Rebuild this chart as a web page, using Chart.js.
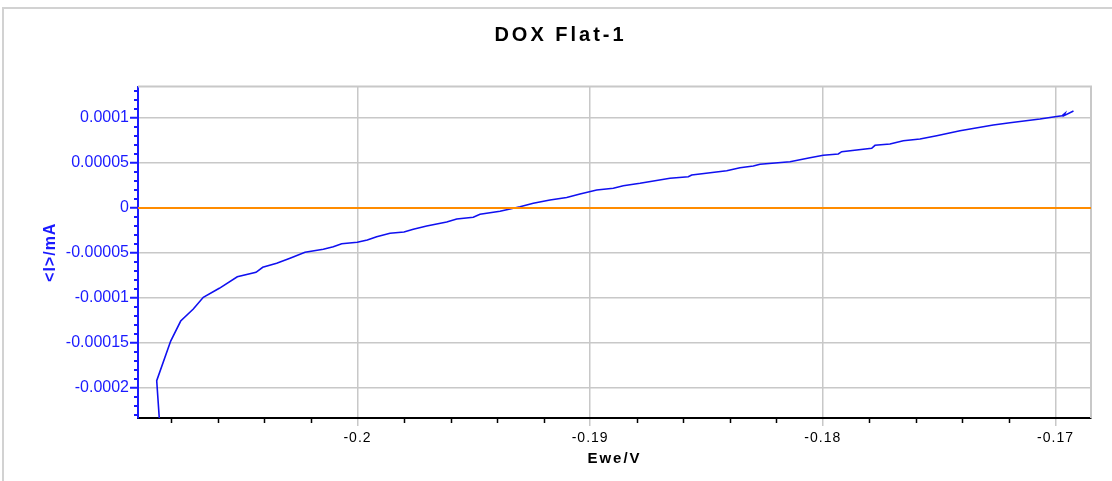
<!DOCTYPE html>
<html>
<head>
<meta charset="utf-8">
<script src="https://cdn.jsdelivr.net/npm/chart.js@4.4.1/dist/chart.umd.min.js"></script>
<style>
  html, body { margin: 0; padding: 0; background: #ffffff; }
  #wrap { width: 1112px; height: 481px; position: relative; }
</style>
</head>
<body>
<div id="wrap"><canvas id="chart"></canvas></div>
<script>
// ---- chart text ----
const chartTitle = 'DOX Flat-1';
const xAxisTitle = 'Ewe/V';
const yAxisTitle = '<I>/mA';

// ---- series: Ewe (V) vs <I> (mA) ----
const eweV = [
  -0.208484, -0.208630, -0.208029, -0.207599, -0.207057, -0.206627, -0.205940, -0.205166,
  -0.204362, -0.204074, -0.203473, -0.202901, -0.202256, -0.201470, -0.201040, -0.200679,
  -0.200009, -0.199579, -0.199175, -0.198603, -0.198002, -0.197602, -0.197026, -0.196166,
  -0.195736, -0.195023, -0.194735, -0.193875, -0.193016, -0.192444, -0.191727, -0.191009,
  -0.190437, -0.189719, -0.189006, -0.188576, -0.187858, -0.186569, -0.185782, -0.185636,
  -0.184132, -0.183560, -0.182989, -0.182701, -0.181411, -0.180552, -0.179980, -0.179336,
  -0.179189, -0.177900, -0.177758, -0.177114, -0.176542, -0.175824, -0.175106, -0.174105,
  -0.172674, -0.171956, -0.170667, -0.170022, -0.169721, -0.169592, -0.169635, -0.169227
];
const currentMA = [
  -0.00024667, -0.00019189, -0.00014778, -0.00012556, -0.00011222, -0.00009922, -0.00008922, -0.00007633,
  -0.00007144, -0.00006589, -0.00006144, -0.00005589, -0.00004922, -0.00004589, -0.00004300, -0.00003967,
  -0.00003811, -0.00003556, -0.00003189, -0.00002811, -0.00002667, -0.00002367, -0.00002000, -0.00001556,
  -0.00001222, -0.00001033, -0.00000700, -0.00000367, 0.00000144, 0.00000522, 0.00000889, 0.00001167,
  0.00001556, 0.00002000, 0.00002189, 0.00002478, 0.00002744, 0.00003300, 0.00003478, 0.00003667,
  0.00004144, 0.00004478, 0.00004667, 0.00004856, 0.00005144, 0.00005589, 0.00005856, 0.00006000,
  0.00006256, 0.00006633, 0.00006967, 0.00007111, 0.00007478, 0.00007667, 0.00008033, 0.00008589,
  0.00009222, 0.00009478, 0.00009889, 0.00010144, 0.00010244, 0.00010522, 0.00010267, 0.00010778
];

// ---- reference (zero) line ----
const zeroLineY = [0, 0];

// ---- axes ----
const xLimits = [-0.209434, -0.168474];
const yLimits = [-0.0002333, 0.000135];
const xTickValues = [-0.2, -0.19, -0.18, -0.17];
const xTickLabels = ['-0.2', '-0.19', '-0.18', '-0.17'];
const yTickValues = [-0.0002, -0.00015, -0.0001, -0.00005, 0, 0.00005, 0.0001];
const yTickLabels = ['-0.0002', '-0.00015', '-0.0001', '-0.00005', '0', '0.00005', '0.0001'];

// ---- styling ----
const FONT = "'Liberation Sans', Arial, Helvetica, sans-serif";
const BLUE_TEXT = '#1a1aff';
const CURVE_BLUE = '#1010f0';
const ORANGE = '#ff8c00';
const GRID = '#c8c8c8';

const curvePoints = eweV.map((x, i) => ({ x: x, y: currentMA[i] }));
const zeroPoints = xLimits.map((x, i) => ({ x: x, y: zeroLineY[i] }));

function nearestLabel(values, labels, v) {
  let best = -1, bd = Infinity;
  values.forEach((t, i) => { const d = Math.abs(t - v); if (d < bd) { bd = d; best = i; } });
  return bd < 1e-9 ? labels[best] : '';
}

function wrapSpacing(obj, name, sp) {
  if (!obj || obj['_ls_' + name]) return;
  const orig = obj[name];
  if (typeof orig !== 'function') return;
  obj[name] = function () {
    const c = this.ctx;
    c.save();
    try { c.letterSpacing = sp; } catch (e) {}
    const r = orig.apply(this, arguments);
    c.restore();
    return r;
  };
  obj['_ls_' + name] = true;
}

const decorPlugin = {
  id: 'decor',
  beforeDraw(chart) {
    const { ctx, width, height } = chart;
    ctx.save();
    ctx.fillStyle = '#ffffff';
    ctx.fillRect(0, 0, width, height);
    ctx.strokeStyle = '#d2d2d2';
    ctx.lineWidth = 2;
    ctx.beginPath();
    ctx.moveTo(3, height);
    ctx.lineTo(3, 8);
    ctx.lineTo(width, 8);
    ctx.stroke();
    ctx.restore();
    wrapSpacing(chart.scales.x, 'drawLabels', '1px');
    wrapSpacing(chart.scales.x, 'drawTitle', '2px');
    wrapSpacing(chart.scales.y, 'drawTitle', '1px');
    wrapSpacing(chart.titleBlock, 'draw', '3px');
  },
  beforeDatasetsDraw(chart) {
    const { ctx, chartArea: a } = chart;
    const xs = chart.scales.x, ys = chart.scales.y;
    ctx.save();
    // top & right frame of the plot area
    ctx.strokeStyle = GRID;
    ctx.lineWidth = 2;
    ctx.beginPath();
    ctx.moveTo(a.left, a.top);
    ctx.lineTo(a.right, a.top);
    ctx.lineTo(a.right, a.bottom);
    ctx.stroke();
    // minor ticks on x (every 0.002)
    ctx.strokeStyle = '#000000';
    ctx.lineWidth = 1.5;
    const xStep = 0.002;
    for (let k = Math.ceil(xs.min / xStep); k <= Math.floor(xs.max / xStep); k++) {
      if (k % 5 === 0) continue;
      const px = Math.round(xs.getPixelForValue(k * xStep)) + 0.5;
      ctx.beginPath();
      ctx.moveTo(px, a.bottom);
      ctx.lineTo(px, a.bottom + 5);
      ctx.stroke();
    }
    // minor ticks on y (every 0.00001)
    ctx.strokeStyle = BLUE_TEXT;
    ctx.lineWidth = 2;
    const yStep = 0.00001;
    for (let k = Math.ceil(ys.min / yStep); k <= Math.floor(ys.max / yStep); k++) {
      if (k % 5 === 0) continue;
      const py = Math.round(ys.getPixelForValue(k * yStep));
      ctx.beginPath();
      ctx.moveTo(a.left - 4, py);
      ctx.lineTo(a.left, py);
      ctx.stroke();
    }
    ctx.restore();
  }
};

new Chart(document.getElementById('chart'), {
  type: 'scatter',
  data: {
    datasets: [
      {
        label: '<I> vs Ewe',
        data: curvePoints,
        showLine: true,
        borderColor: CURVE_BLUE,
        backgroundColor: CURVE_BLUE,
        borderWidth: 1.6,
        pointRadius: 0,
        pointHoverRadius: 0,
        tension: 0,
        order: 2
      },
      {
        label: 'zero',
        data: zeroPoints,
        showLine: true,
        borderColor: ORANGE,
        backgroundColor: ORANGE,
        borderWidth: 2,
        pointRadius: 0,
        pointHoverRadius: 0,
        tension: 0,
        order: 1
      }
    ]
  },
  options: {
    responsive: true,
    maintainAspectRatio: false,
    animation: false,
    devicePixelRatio: 1,
    events: [],
    layout: { padding: { left: 30, right: 21, top: 8, bottom: 8 } },
    plugins: {
      legend: { display: false },
      tooltip: { enabled: false },
      title: {
        display: true,
        text: chartTitle,
        color: '#000000',
        font: { family: FONT, size: 20, weight: 'bold' },
        padding: { top: 15, bottom: 39.5 }
      }
    },
    scales: {
      x: {
        type: 'linear',
        position: 'bottom',
        min: xLimits[0],
        max: xLimits[1],
        afterBuildTicks(scale) { scale.ticks = xTickValues.map(v => ({ value: v })); },
        afterFit(scale) { scale.height = 55; },
        ticks: {
          color: '#000000',
          font: { family: FONT, size: 14 },
          padding: 4,
          maxRotation: 0,
          autoSkip: false,
          callback: (v) => nearestLabel(xTickValues, xTickLabels, v)
        },
        grid: {
          color: GRID,
          lineWidth: 1.5,
          tickColor: GRID,
          tickLength: 8,
          tickWidth: 1.5
        },
        border: { display: true, color: '#000000', width: 2 },
        title: {
          display: true,
          text: xAxisTitle,
          color: '#000000',
          font: { family: FONT, size: 15, weight: 'bold' },
          padding: { top: 0, bottom: 5 }
        }
      },
      y: {
        type: 'linear',
        position: 'left',
        min: yLimits[0],
        max: yLimits[1],
        afterBuildTicks(scale) { scale.ticks = yTickValues.map(v => ({ value: v })); },
        afterFit(scale) { scale.width = 108; },
        ticks: {
          color: BLUE_TEXT,
          font: { family: FONT, size: 16 },
          padding: 1,
          autoSkip: false,
          callback: (v) => nearestLabel(yTickValues, yTickLabels, v)
        },
        grid: {
          color: GRID,
          lineWidth: 1.5,
          tickColor: BLUE_TEXT,
          tickLength: 8,
          tickWidth: 2
        },
        border: { display: true, color: BLUE_TEXT, width: 2 },
        title: {
          display: true,
          text: yAxisTitle,
          color: BLUE_TEXT,
          font: { family: FONT, size: 16, weight: 'bold' },
          padding: { top: 11, bottom: 0 }
        }
      }
    }
  },
  plugins: [decorPlugin]
});
</script>
</body>
</html>
